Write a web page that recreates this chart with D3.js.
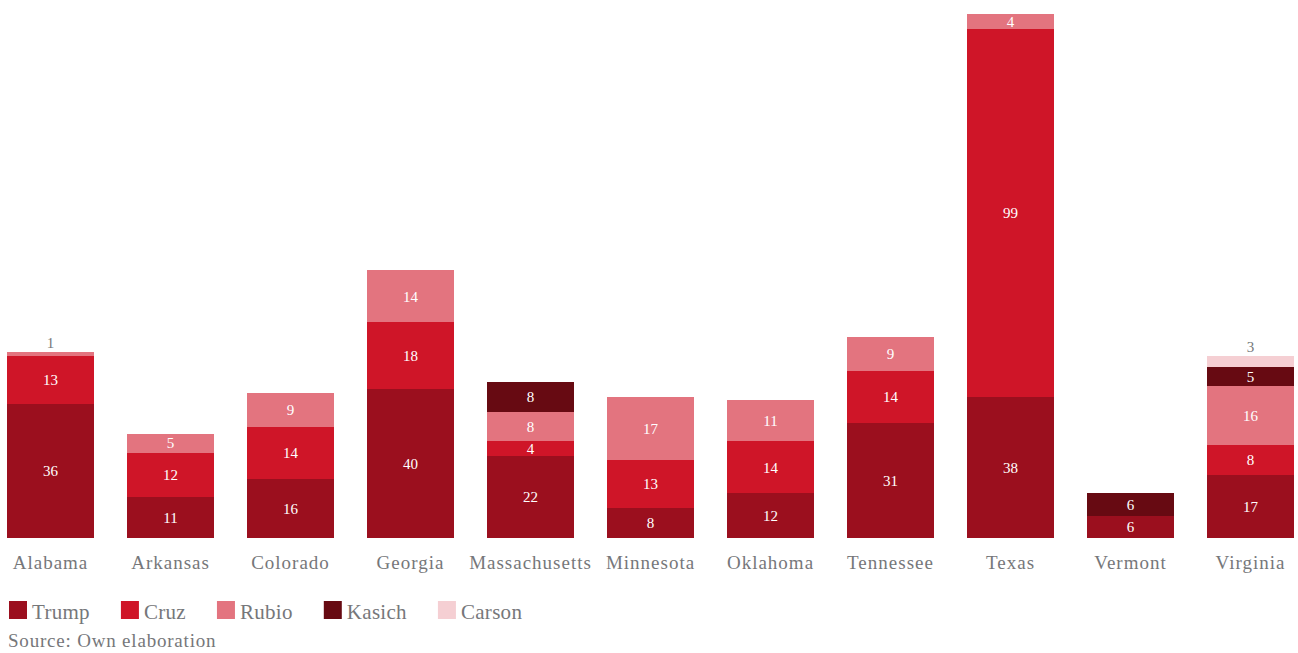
<!DOCTYPE html>
<html>
<head>
<meta charset="utf-8">
<script src="https://cdn.jsdelivr.net/npm/d3@7"></script>
<style>
  html, body { margin: 0; padding: 0; background: #fff; }
  svg { display: block; }
  text { font-family: "Liberation Serif", "DejaVu Serif", serif; }
</style>
</head>
<body>
<svg id="chart" width="1298" height="653"></svg>
<script>
// Delegates won per state, Super Tuesday 2016 (Republican primaries)
const states = ["Alabama", "Arkansas", "Colorado", "Georgia", "Massachusetts", "Minnesota",
                "Oklahoma", "Tennessee", "Texas", "Vermont", "Virginia"];
const candidates = ["Trump", "Cruz", "Rubio", "Kasich", "Carson"];
const trump  = [36, 11, 16, 40, 22, 8, 12, 31, 38, 6, 17];
const cruz   = [13, 12, 14, 18, 4, 13, 14, 14, 99, 0, 8];
const rubio  = [1, 5, 9, 14, 8, 17, 11, 9, 4, 0, 16];
const kasich = [0, 0, 0, 0, 8, 0, 0, 0, 0, 6, 5];
const carson = [0, 0, 0, 0, 0, 0, 0, 0, 0, 0, 3];
const colors = ["#9b0f1e", "#cf1528", "#e3747f", "#670a12", "#f5cfd3"];
const source = "Source: Own elaboration";

const series = [trump, cruz, rubio, kasich, carson];
const rows = states.map((s, i) => {
  const r = { state: s };
  candidates.forEach((c, k) => r[c] = series[k][i]);
  return r;
});

const svg = d3.select("#chart");
const textGray = "#76777a";

const x = d3.scaleBand().domain(states).range([7, 1294]).paddingInner(0.275).paddingOuter(0);
const maxTotal = d3.max(rows, r => d3.sum(candidates, c => r[c]));
const y = d3.scaleLinear().domain([0, maxTotal]).range([538, 14]);

const stacked = d3.stack().keys(candidates)(rows);
const color = d3.scaleOrdinal().domain(candidates).range(colors);

const layers = svg.append("g").attr("shape-rendering", "crispEdges")
  .selectAll("g").data(stacked).join("g")
  .attr("fill", d => color(d.key));

layers.selectAll("rect")
  .data(d => d.map(v => ({ key: d.key, v })))
  .join("rect")
  .filter(d => d.v[1] > d.v[0])
  .attr("x", d => x(d.v.data.state))
  .attr("width", x.bandwidth())
  .attr("y", d => y(d.v[1]))
  .attr("height", d => y(d.v[0]) - y(d.v[1]));

// Segment value labels: inside the segment when it is tall enough, above the bar otherwise
const labels = [];
stacked.forEach(layer => {
  layer.forEach(v => {
    const val = v[1] - v[0];
    if (val <= 0) return;
    labels.push({ state: v.data.state, val, y0: v[0], y1: v[1] });
  });
});

svg.append("g").selectAll("text").data(labels).join("text")
  .attr("x", d => x(d.state) + x.bandwidth() / 2)
  .attr("y", d => d.val < 4 ? y(d.y1) - 4 : (y(d.y0) + y(d.y1)) / 2)
  .attr("dy", d => d.val < 4 ? 0 : "0.35em")
  .attr("text-anchor", "middle")
  .attr("font-size", 15)
  .attr("fill", d => d.val < 4 ? textGray : "#ffffff")
  .text(d => d.val);

// Category axis (no line, no ticks)
const xAxis = svg.append("g").attr("transform", "translate(0,538)")
  .call(d3.axisBottom(x).tickSize(0).tickPadding(18));
xAxis.select(".domain").remove();
xAxis.selectAll("text").attr("font-size", 19).attr("fill", textGray)
  .attr("letter-spacing", "1px")
  .style("font-family", "\"Liberation Serif\", \"DejaVu Serif\", serif");

// Legend
const legend = svg.append("g").attr("transform", "translate(9,601)");
let lx = 0;
candidates.forEach((c, k) => {
  const g = legend.append("g").attr("transform", `translate(${lx},0)`);
  g.append("rect").attr("width", 18).attr("height", 18).attr("fill", colors[k]);
  const t = g.append("text").attr("x", 23).attr("y", 18).attr("font-size", 21)
    .attr("letter-spacing", "0.3px")
    .attr("fill", textGray).text(c);
  lx += 23 + t.node().getComputedTextLength() + 31;
});

svg.append("text").attr("x", 8).attr("y", 647).attr("font-size", 19)
  .attr("letter-spacing", "0.8px")
  .attr("fill", textGray).text(source);
</script>
</body>
</html>
